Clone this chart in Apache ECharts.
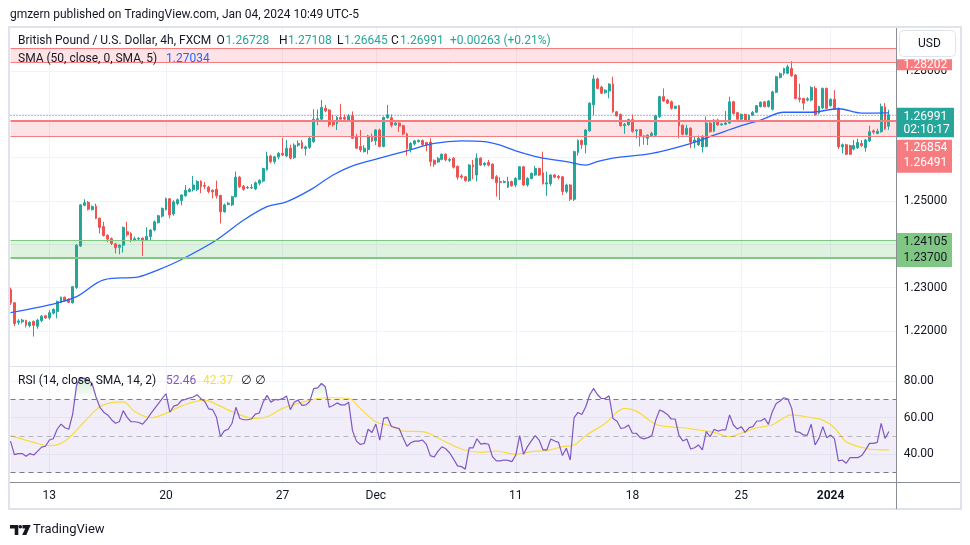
<!DOCTYPE html>
<html>
<head>
<meta charset="utf-8">
<script src="https://cdn.jsdelivr.net/npm/echarts@6/dist/echarts.min.js"></script>
<style>
html, body { margin: 0; padding: 0; background: #fff; }
#chart { width: 970px; height: 545px; }
</style>
</head>
<body>
<div id="chart"></div>
<script>
// GBP/USD 4h, FXCM - candles, SMA 50, RSI 14 with its SMA
var FONT = 'Roboto, "Noto Sans", "DejaVu Sans", sans-serif';
var UP = '#26a69a', DOWN = '#ef5350', TXT = '#131722';
var GRIDC = '#f0f3fa', NONE = 'rgba(0,0,0,0)';
var MA_YELLOW = '#f9dc3a';

// time axis: 4h bar slots, label shown at these bar indexes
var slotCount = 229;
var tickIdx = [10, 40, 70, 94, 130, 160, 188, 211];
var tickText = ['13', '20', '27', 'Dec', '11', '18', '25', '2024'];

// [open, close, low, high]
var candles = [
  // Nov 9 - 10
  [1.2295,1.2265,1.2260,1.2300],[1.2265,1.2217,1.2211,1.2266],[1.2220,1.2223,1.2214,1.2227],[1.2221,1.2225,1.2217,1.2228],
  [1.2224,1.2213,1.2208,1.2226],[1.2212,1.2220,1.2208,1.2222],[1.2222,1.2213,1.2187,1.2224],[1.2211,1.2225,1.2205,1.2228],
  [1.2224,1.2234,1.2220,1.2237],[1.2235,1.2230,1.2228,1.2236],
  // week of Nov 13
  [1.2230,1.2242,1.2226,1.2248],[1.2241,1.2250,1.2238,1.2252],[1.2245,1.2268,1.2229,1.2270],[1.2266,1.2278,1.2264,1.2279],
  [1.2278,1.2270,1.2267,1.2279],[1.2273,1.2266,1.2264,1.2275],[1.2265,1.2302,1.2263,1.2304],[1.2300,1.2398,1.2297,1.2400],
  [1.2396,1.2491,1.2394,1.2493],[1.2490,1.2496,1.2488,1.2504],[1.2497,1.2481,1.2478,1.2500],[1.2480,1.2487,1.2478,1.2490],
  [1.2488,1.2460,1.2458,1.2494],[1.2460,1.2439,1.2425,1.2462],[1.2441,1.2420,1.2418,1.2452],[1.2421,1.2412,1.2405,1.2423],
  [1.2413,1.2402,1.2398,1.2416],[1.2401,1.2392,1.2379,1.2403],[1.2393,1.2398,1.2377,1.2400],[1.2398,1.2439,1.2381,1.2441],
  [1.2429,1.2422,1.2418,1.2452],[1.2425,1.2410,1.2405,1.2428],[1.2410,1.2413,1.2407,1.2418],[1.2412,1.2414,1.2410,1.2416],
  [1.2414,1.2408,1.2373,1.2416],[1.2410,1.2418,1.2408,1.2439],[1.2418,1.2433,1.2410,1.2435],[1.2433,1.2452,1.2430,1.2455],
  [1.2450,1.2466,1.2448,1.2468],[1.2465,1.2483,1.2462,1.2485],
  // week of Nov 20
  [1.2480,1.2505,1.2478,1.2508],[1.2505,1.2468,1.2460,1.2507],[1.2470,1.2498,1.2466,1.2502],[1.2494,1.2503,1.2490,1.2506],
  [1.2501,1.2514,1.2490,1.2515],[1.2512,1.2525,1.2510,1.2537],[1.2522,1.2527,1.2520,1.2530],[1.2526,1.2537,1.2522,1.2558],
  [1.2527,1.2545,1.2523,1.2548],[1.2545,1.2533,1.2518,1.2548],[1.2536,1.2534,1.2528,1.2544],[1.2532,1.2522,1.2518,1.2535],
  [1.2525,1.2521,1.2506,1.2527],[1.2527,1.2512,1.2506,1.2547],[1.2513,1.2475,1.2448,1.2514],[1.2475,1.2491,1.2473,1.2494],
  [1.2492,1.2495,1.2490,1.2498],[1.2491,1.2510,1.2488,1.2512],[1.2510,1.2555,1.2508,1.2568],[1.2555,1.2533,1.2530,1.2558],
  [1.2534,1.2527,1.2524,1.2537],[1.2530,1.2531,1.2528,1.2535],[1.2530,1.2531,1.2528,1.2539],[1.2528,1.2542,1.2525,1.2545],
  [1.2541,1.2548,1.2536,1.2550],[1.2546,1.2575,1.2543,1.2577],[1.2572,1.2604,1.2570,1.2614],[1.2604,1.2591,1.2587,1.2607],
  [1.2591,1.2602,1.2586,1.2604],[1.2602,1.2610,1.2596,1.2613],
  // week of Nov 27
  [1.2610,1.2606,1.2604,1.2646],[1.2604,1.2622,1.2601,1.2641],[1.2622,1.2599,1.2596,1.2630],[1.2600,1.2629,1.2597,1.2633],
  [1.2629,1.2633,1.2625,1.2640],[1.2635,1.2622,1.2620,1.2641],[1.2621,1.2625,1.2605,1.2628],[1.2624,1.2645,1.2620,1.2650],
  [1.2637,1.2689,1.2634,1.2712],[1.2688,1.2690,1.2675,1.2711],[1.2689,1.2716,1.2686,1.2733],[1.2714,1.2708,1.2705,1.2722],
  [1.2710,1.2676,1.2671,1.2712],[1.2683,1.2676,1.2672,1.2699],[1.2679,1.2693,1.2664,1.2697],[1.2693,1.2689,1.2687,1.2724],
  [1.2693,1.2689,1.2686,1.2700],[1.2687,1.2696,1.2685,1.2701],[1.2697,1.2645,1.2643,1.2707],[1.2648,1.2622,1.2620,1.2655],
  [1.2626,1.2618,1.2613,1.2664],[1.2614,1.2622,1.2612,1.2629],[1.2619,1.2650,1.2608,1.2653],[1.2650,1.2639,1.2636,1.2656],
  [1.2639,1.2664,1.2629,1.2666],[1.2664,1.2626,1.2624,1.2667],[1.2626,1.2693,1.2624,1.2695],[1.2692,1.2699,1.2690,1.2722],
  [1.2692,1.2675,1.2670,1.2700],[1.2676,1.2680,1.2674,1.2685],
  // week of Dec 4
  [1.2680,1.2673,1.2660,1.2682],[1.2674,1.2655,1.2652,1.2676],[1.2655,1.2621,1.2605,1.2658],[1.2620,1.2633,1.2612,1.2636],
  [1.2632,1.2639,1.2628,1.2641],[1.2637,1.2640,1.2635,1.2642],[1.2640,1.2630,1.2628,1.2642],[1.2635,1.2630,1.2615,1.2637],
  [1.2636,1.2591,1.2580,1.2645],[1.2594,1.2585,1.2579,1.2596],[1.2590,1.2598,1.2588,1.2602],[1.2596,1.2608,1.2594,1.2610],
  [1.2608,1.2595,1.2592,1.2610],[1.2594,1.2596,1.2590,1.2600],[1.2599,1.2578,1.2575,1.2601],[1.2580,1.2555,1.2549,1.2582],
  [1.2558,1.2555,1.2551,1.2562],[1.2556,1.2547,1.2545,1.2558],[1.2547,1.2583,1.2544,1.2585],[1.2583,1.2579,1.2550,1.2595],
  [1.2560,1.2599,1.2545,1.2610],[1.2599,1.2583,1.2581,1.2601],[1.2584,1.2587,1.2580,1.2590],[1.2589,1.2583,1.2580,1.2595],
  [1.2585,1.2552,1.2550,1.2587],[1.2556,1.2542,1.2510,1.2560],[1.2545,1.2543,1.2502,1.2555],[1.2543,1.2545,1.2541,1.2548],
  [1.2532,1.2545,1.2530,1.2556],[1.2545,1.2535,1.2533,1.2547],
  // week of Dec 11
  [1.2537,1.2552,1.2532,1.2555],[1.2550,1.2579,1.2548,1.2581],[1.2579,1.2537,1.2535,1.2581],[1.2537,1.2552,1.2533,1.2555],
  [1.2552,1.2564,1.2550,1.2566],[1.2560,1.2575,1.2558,1.2581],[1.2575,1.2560,1.2558,1.2577],[1.2565,1.2540,1.2538,1.2614],
  [1.2539,1.2542,1.2512,1.2568],[1.2540,1.2560,1.2535,1.2562],[1.2560,1.2555,1.2553,1.2562],[1.2557,1.2554,1.2550,1.2560],
  [1.2556,1.2522,1.2514,1.2558],[1.2522,1.2537,1.2518,1.2540],[1.2537,1.2504,1.2500,1.2539],[1.2504,1.2614,1.2500,1.2616],
  [1.2612,1.2640,1.2605,1.2642],[1.2640,1.2630,1.2620,1.2642],[1.2630,1.2664,1.2610,1.2666],[1.2662,1.2726,1.2660,1.2728],
  [1.2722,1.2782,1.2698,1.2791],[1.2782,1.2760,1.2758,1.2785],[1.2763,1.2749,1.2747,1.2766],[1.2750,1.2756,1.2748,1.2758],
  [1.2754,1.2770,1.2737,1.2772],[1.2770,1.2706,1.2704,1.2787],[1.2706,1.2697,1.2695,1.2708],[1.2700,1.2674,1.2672,1.2702],
  [1.2674,1.2677,1.2655,1.2680],[1.2676,1.2688,1.2674,1.2690],
  // week of Dec 18
  [1.2688,1.2661,1.2658,1.2700],[1.2662,1.2664,1.2645,1.2666],[1.2665,1.2649,1.2626,1.2666],[1.2650,1.2648,1.2630,1.2652],
  [1.2645,1.2652,1.2629,1.2654],[1.2651,1.2656,1.2648,1.2660],[1.2652,1.2697,1.2650,1.2699],[1.2695,1.2741,1.2692,1.2743],
  [1.2741,1.2731,1.2729,1.2760],[1.2733,1.2726,1.2724,1.2736],[1.2729,1.2714,1.2711,1.2732],[1.2714,1.2719,1.2712,1.2720],
  [1.2720,1.2674,1.2645,1.2722],[1.2675,1.2654,1.2652,1.2677],[1.2654,1.2668,1.2651,1.2676],[1.2668,1.2636,1.2622,1.2670],
  [1.2636,1.2641,1.2622,1.2648],[1.2630,1.2645,1.2627,1.2651],[1.2625,1.2649,1.2612,1.2652],[1.2626,1.2680,1.2624,1.2695],
  [1.2680,1.2660,1.2658,1.2682],[1.2661,1.2687,1.2659,1.2689],[1.2687,1.2676,1.2674,1.2690],[1.2676,1.2678,1.2674,1.2680],
  [1.2677,1.2680,1.2676,1.2708],[1.2680,1.2729,1.2678,1.2741],[1.2729,1.2702,1.2700,1.2731],[1.2704,1.2689,1.2687,1.2706],
  // week of Dec 25
  [1.2689,1.2700,1.2687,1.2702],[1.2700,1.2685,1.2683,1.2702],[1.2685,1.2698,1.2683,1.2700],[1.2698,1.2705,1.2696,1.2708],
  [1.2705,1.2720,1.2703,1.2722],[1.2718,1.2728,1.2716,1.2730],[1.2729,1.2718,1.2716,1.2731],[1.2718,1.2731,1.2716,1.2733],
  [1.2712,1.2752,1.2709,1.2755],[1.2751,1.2787,1.2749,1.2789],[1.2785,1.2794,1.2783,1.2797],[1.2795,1.2806,1.2790,1.2808],
  [1.2795,1.2810,1.2793,1.2815],[1.2806,1.2789,1.2787,1.2823],[1.2791,1.2737,1.2735,1.2793],[1.2738,1.2735,1.2728,1.2771],
  [1.2737,1.2726,1.2710,1.2738],[1.2733,1.2736,1.2730,1.2740],[1.2733,1.2762,1.2730,1.2765],[1.2760,1.2699,1.2697,1.2765],
  [1.2703,1.2718,1.2700,1.2720],[1.2715,1.2760,1.2712,1.2762],[1.2760,1.2714,1.2712,1.2762],
  // Jan 2024
  [1.2720,1.2735,1.2718,1.2737],[1.2735,1.2712,1.2710,1.2756],[1.2714,1.2625,1.2620,1.2716],[1.2625,1.2630,1.2610,1.2633],
  [1.2630,1.2608,1.2606,1.2632],[1.2628,1.2608,1.2606,1.2630],[1.2620,1.2628,1.2617,1.2641],[1.2623,1.2635,1.2620,1.2644],
  [1.2633,1.2628,1.2625,1.2641],[1.2623,1.2641,1.2614,1.2643],[1.2639,1.2660,1.2636,1.2674],[1.2662,1.2659,1.2655,1.2665],
  [1.2656,1.2661,1.2654,1.2667],[1.2660,1.2718,1.2658,1.2725],[1.2717,1.2667,1.2664,1.2726],[1.26728,1.26991,1.26645,1.27108]
];

// SMA(50): [bar index, value]
var smaPts = [
  [0,1.2242],[10,1.2260],[17,1.2279],[24,1.2318],[33,1.2325],[38,1.2341],[44,1.2365],[53,1.2410],
  [60,1.2456],[66,1.2487],[71,1.2498],[77,1.2525],[83,1.2560],[88,1.2581],[95,1.2599],[102,1.2616],
  [109,1.2633],[116,1.2639],[122,1.2637],[126,1.2629],[130,1.2616],[136,1.2601],[143,1.2591],[148,1.2583],
  [151,1.2591],[155,1.2599],[165,1.2610],[175,1.2633],[181,1.2652],[188,1.2674],[193,1.2687],[199,1.2705],
  [206,1.2705],[213,1.2713],[219,1.2703],[226,1.27034]
];

// RSI(14), one value per bar
var rsi = [
  47.2,39.8,40.4,40.4,38.9,40.4,39.6,41.7,43.9,44.4,
  47.8,48.5,53.7,56.5,54.5,53.7,62,77.8,81.9,81.5,
  80.6,78.7,71.3,65.7,63,61.5,58.9,57,57.8,63.9,
  60.2,57.8,57.8,57.4,56.5,58.9,62,64.8,67.6,70.4,
  73.1,63,66.3,67,69.4,70,70.7,71.3,72.6,70.4,
  68.9,64.8,64.4,60.2,49.6,52.8,53.7,57,65.7,59.6,
  58.9,58.9,59.3,62,62.6,68.5,72.2,68.5,70,69.8,
  70.4,71.9,64.4,68.5,69.6,66.7,67,68.9,75.9,76.3,
  78.7,76.9,65.7,66.7,68.1,67,67,68.5,52.8,47.2,
  45.4,45.9,53.7,51.9,56.5,47.8,59.6,60.2,55.2,54.6,
  54.1,49.1,44.4,46.3,47.2,47.2,47.8,45.4,39.3,38.5,
  41.7,44.1,43,40.7,37.4,33.7,33.3,31.9,43.5,43.5,
  48.5,45.6,46,45.5,38.7,36.4,36.4,36.9,36.7,36,
  39.6,50.2,40,44.2,47.3,50.2,47.8,42.4,42.4,48.4,
  47.3,46.5,39.3,43.3,36.9,60,62.9,61.8,66,72.4,
  76,72.7,70.5,70.5,72,59.6,58.2,54.2,54.5,56,
  51.5,51.5,49.1,48.4,49.1,50.2,58.7,64.2,63.3,61.8,
  59.3,59.3,50.2,47.3,48.4,42.9,43.6,45.1,42.4,52.4,
  49.6,53.6,52.7,53.3,53.3,61.5,56,53.8,55.1,52,
  54.5,55.1,58.2,58.2,59.6,56.4,63.3,67.8,69.1,70.9,
  70.2,65.1,52.4,52,50.5,50.5,56.4,45.1,48.7,55.1,
  49.1,50.5,48.4,36.4,36.9,35.1,38.2,38.2,38.2,39.3,
  42.4,46,46,46.5,56.9,48.7,52.46
];

// SMA(14) of RSI: [bar index, value]
var rsiMaPts = [
  [0,50.2],[6,46.5],[10,44.7],[14,47.3],[19,57.8],[23,66],[26,68.2],[29,68.7],[32,63.3],[36,60],
  [40,62.4],[44,66.5],[50,69.6],[53,67.3],[57,63.3],[63,59.6],[66,60.5],[70,65.1],[75,68.4],[79,70.5],
  [82,70.9],[87,70.5],[90,65.1],[94,57.8],[98,55.6],[101,52.7],[106,52.4],[111,47.8],[116,42.9],[121,41.1],
  [125,41.8],[130,40],[134,41.5],[138,42],[142,44.2],[145,45.1],[148,50.2],[153,56.9],[158,65.1],[161,63.6],
  [166,56.4],[169,55.1],[173,54.5],[177,53.3],[181,52],[185,49.6],[188,51.5],[192,54.5],[196,56],[198,58.7],
  [201,61.5],[206,60],[209,58.7],[212,54.5],[215,46.9],[220,43.3],[224,42.4],[226,42.37]
];

// drawn zones and levels
var zoneTop = [1.28202, 1.2852];
var zoneMid = [1.26491, 1.26854];
var zoneLow = [1.23700, 1.24105];
var lastClose = 1.26991;

var cats = [];
for (var i = 0; i < slotCount; i++) cats.push('');
tickIdx.forEach(function (k, j) { cats[k] = tickText[j]; });

function isTick(idx, val) { return val !== ''; }

var chart = echarts.init(document.getElementById('chart'));

var option = {
  animation: false,
  backgroundColor: '#ffffff',
  grid: [
    { left: 10.5, right: 73.3, top: 27.8, height: 346.4 },
    { left: 10.5, right: 73.3, top: 367.4, height: 114.35 }
  ],
  xAxis: [
    {
      type: 'category', gridIndex: 0, data: cats, boundaryGap: false,
      axisLine: { show: false }, axisTick: { show: false }, axisLabel: { show: false },
      splitLine: { show: true, interval: isTick, lineStyle: { color: GRIDC } }
    },
    {
      type: 'category', gridIndex: 1, data: cats, boundaryGap: false,
      axisLine: { show: false }, axisTick: { show: false },
      axisLabel: {
        interval: 0, margin: 8, color: TXT, fontSize: 12, fontFamily: FONT,
        formatter: function (v) { return v === '2024' ? '{b|2024}' : v; },
        rich: { b: { fontWeight: 'bold', fontSize: 12, color: TXT, fontFamily: FONT } }
      },
      splitLine: { show: true, interval: isTick, lineStyle: { color: GRIDC } }
    }
  ],
  yAxis: [
    {
      type: 'value', gridIndex: 0, position: 'right', min: 1.21, max: 1.29, interval: 0.01,
      axisLine: { show: false }, axisTick: { show: false },
      axisLabel: {
        margin: 7, color: TXT, fontSize: 12, fontFamily: FONT,
        formatter: function (v) { return (v < 1.215 || v > 1.285) ? '' : v.toFixed(5); }
      },
      splitLine: { lineStyle: { color: [NONE, GRIDC, GRIDC, GRIDC, GRIDC, GRIDC, GRIDC, GRIDC, NONE] } }
    },
    {
      type: 'value', gridIndex: 1, position: 'right', min: 25, max: 87.5, interval: 5,
      axisLine: { show: false }, axisTick: { show: false },
      axisLabel: {
        margin: 7, color: TXT, fontSize: 12, fontFamily: FONT,
        formatter: function (v) { return (v === 40 || v === 60 || v === 80) ? v.toFixed(2) : ''; }
      },
      splitLine: { lineStyle: { color: [NONE, NONE, NONE, GRIDC, NONE, NONE, NONE, GRIDC, NONE, NONE, NONE, GRIDC, NONE, NONE] } }
    }
  ],
  series: [
    {
      name: 'GBPUSD', type: 'candlestick', xAxisIndex: 0, yAxisIndex: 0,
      data: candles, barWidth: 2.4, z: 3,
      itemStyle: { color: UP, color0: DOWN, borderColor: UP, borderColor0: DOWN, borderWidth: 1 },
      markArea: {
        silent: true,
        data: [
          [{ yAxis: zoneTop[0], itemStyle: { color: 'rgba(242,54,69,0.14)' } }, { yAxis: zoneTop[1] }],
          [{ yAxis: zoneMid[0], itemStyle: { color: 'rgba(242,54,69,0.14)' } }, { yAxis: zoneMid[1] }],
          [{ yAxis: zoneLow[0], itemStyle: { color: 'rgba(76,175,80,0.18)' } }, { yAxis: zoneLow[1] }]
        ]
      },
      markLine: {
        silent: true, symbol: 'none', label: { show: false }, precision: 6,
        data: [
          { yAxis: zoneTop[0], lineStyle: { color: '#f77c80', width: 1, type: 'solid' } },
          { yAxis: zoneTop[1], lineStyle: { color: '#f77c80', width: 1, type: 'solid' } },
          { yAxis: zoneMid[1], lineStyle: { color: '#f77c80', width: 2, type: 'solid' } },
          { yAxis: zoneMid[0], lineStyle: { color: '#f77c80', width: 1, type: 'solid' } },
          { yAxis: zoneLow[1], lineStyle: { color: '#81c784', width: 1, type: 'solid' } },
          { yAxis: zoneLow[0], lineStyle: { color: '#81c784', width: 2, type: 'solid' } },
          { yAxis: lastClose, lineStyle: { color: UP, width: 1, type: [1, 2] } }
        ]
      }
    },
    {
      name: 'SMA 50', type: 'line', xAxisIndex: 0, yAxisIndex: 0, data: smaPts,
      smooth: 0.35, showSymbol: false, z: 4,
      lineStyle: { color: '#2962ff', width: 1.3 }
    },
    {
      name: 'RSI', type: 'line', xAxisIndex: 1, yAxisIndex: 1, data: rsi,
      showSymbol: false, z: 4, lineStyle: { color: '#7e57c2', width: 1.2 },
      markArea: {
        silent: true,
        data: [[{ yAxis: 30, itemStyle: { color: 'rgba(126,87,194,0.10)' } }, { yAxis: 70 }]]
      },
      markLine: {
        silent: true, symbol: 'none', label: { show: false },
        data: [
          { yAxis: 70, lineStyle: { color: '#787b86', width: 1, type: [5, 4] } },
          { yAxis: 50, lineStyle: { color: 'rgba(120,123,134,0.5)', width: 1, type: [5, 4] } },
          { yAxis: 30, lineStyle: { color: '#787b86', width: 1, type: [5, 4] } }
        ]
      }
    },
    {
      name: 'RSI MA', type: 'line', xAxisIndex: 1, yAxisIndex: 1, data: rsiMaPts,
      smooth: 0.35, showSymbol: false, z: 3, lineStyle: { color: MA_YELLOW, width: 1.2 }
    },
    {
      id: 'overbought', name: 'Overbought', type: 'line', xAxisIndex: 1, yAxisIndex: 1, data: rsi,
      showSymbol: false, z: 2, silent: true,
      lineStyle: { width: 0, opacity: 0 },
      areaStyle: { origin: 'start', opacity: 1, color: NONE }
    }
  ]
};

chart.setOption(option);

// chrome, legends and price tags
function py(v) { return chart.convertToPixel({ yAxisIndex: 0 }, v); }
function ry(v) { return chart.convertToPixel({ yAxisIndex: 1 }, v); }
function font(size, weight) { return (weight || 'normal') + ' ' + size + 'px ' + FONT; }
function label(x, y, s, fill, size, weight) {
  return {
    type: 'text', silent: true, z: 120,
    style: { x: x, y: y, text: s, fill: fill, font: font(size || 12, weight),
      textAlign: 'left', textVerticalAlign: 'middle', align: 'left', verticalAlign: 'middle' }
  };
}
function box(x, y, w, h, fill, r) {
  return { type: 'rect', silent: true, z: 115, shape: { x: x, y: y, width: w, height: h, r: r || 0 }, style: { fill: fill } };
}
function line(x1, y1, x2, y2, color, w) {
  return { type: 'line', silent: true, z: 110, shape: { x1: x1, y1: y1, x2: x2, y2: y2 }, style: { stroke: color, lineWidth: w || 1 } };
}

var yTop = py(zoneTop[0]);
var yLast = py(lastClose);
var yG1 = py(zoneLow[1]), yG2 = py(zoneLow[0]);

var g = [
  // frame and scale borders
  { type: 'rect', silent: true, z: 105, shape: { x: 9, y: 27, width: 952, height: 482 }, style: { fill: 'none', stroke: '#e0e3eb', lineWidth: 2 } },
  line(10, 366.5, 896, 366.5, '#e0e3eb', 1),
  line(896.5, 28, 896.5, 509, '#8a8d96', 1),
  line(10, 482.5, 960, 482.5, '#8a8d96', 1),
  // header
  label(10, 15, 'gmzern published on TradingView.com, Jan 04, 2024 10:49 UTC-5', TXT, 12),
  label(18, 41, 'British Pound / U.S. Dollar, 4h, FXCM', TXT, 12),
  label(216.5, 41, 'O', TXT, 12), label(225.5, 41, '1.26728', UP, 12),
  label(279, 41, 'H', TXT, 12), label(288, 41, '1.27108', UP, 12),
  label(337, 41, 'L', TXT, 12), label(344, 41, '1.26645', UP, 12),
  label(391, 41, 'C', TXT, 12), label(400, 41, '1.26991', UP, 12),
  label(450, 41, '+0.00263 (+0.21%)', UP, 12),
  label(18, 59, 'SMA (50, close, 0, SMA, 5)', TXT, 12),
  label(166, 59, '1.27034', '#2962ff', 12),
  label(18, 381, 'RSI (14, close, SMA, 14, 2)', TXT, 12),
  label(166, 381, '52.46', '#7e57c2', 12),
  label(203, 381, '42.37', MA_YELLOW, 12),
  label(241, 381, '\u2205', TXT, 12),
  label(255, 381, '\u2205', TXT, 12),
  // currency box
  { type: 'rect', silent: true, z: 115, shape: { x: 899.5, y: 30.5, width: 56, height: 26, r: 4 }, style: { fill: '#fff', stroke: '#e0e3eb', lineWidth: 1 } },
  label(918, 44, 'USD', TXT, 12),
  // price tags
  box(897, yTop - 3, 55, 11, '#f77c80'),
  label(903.5, yTop + 2.5, zoneTop[0].toFixed(5), '#ffffff', 12),
  box(897, yLast - 7, 57, 29.5, UP),
  label(903.5, yLast + 2, lastClose.toFixed(5), '#ffffff', 12),
  label(903.5, yLast + 15.5, '02:10:17', '#ffffff', 12),
  box(897, yLast + 25, 55, 33, '#f77c80'),
  label(903.5, yLast + 33.5, zoneMid[1].toFixed(5), '#ffffff', 12),
  label(903.5, yLast + 48.5, zoneMid[0].toFixed(5), '#ffffff', 12),
  box(897, yG1 - 6.8, 55, (yG2 - yG1) + 16.5, '#81c784'),
  label(903.5, yG1 + 1.8, zoneLow[1].toFixed(5), TXT, 12),
  label(903.5, yG2 + 1, zoneLow[0].toFixed(5), TXT, 12),
  // footer logo
  { type: 'polygon', silent: true, z: 120, shape: { points: [[10, 525], [18.3, 525], [18.3, 535], [14.7, 535], [14.7, 528.5], [10, 528.5]] }, style: { fill: TXT } },
  { type: 'circle', silent: true, z: 120, shape: { cx: 20.3, cy: 526.8, r: 1.8 }, style: { fill: TXT } },
  { type: 'polygon', silent: true, z: 120, shape: { points: [[22.5, 525], [30.7, 525], [26.3, 535], [22.2, 535], [25.2, 528.5], [22.5, 528.5]] }, style: { fill: TXT } },
  label(33, 530, 'TradingView', TXT, 13)
];

// overbought fill: transparent at 70, fading to green above it
var obFill = new echarts.graphic.LinearGradient(0, ry(70), 0, ry(90), [
  { offset: 0, color: 'rgba(76,175,80,0)' },
  { offset: 1, color: 'rgba(76,175,80,0.45)' }
], true);

chart.setOption({
  series: [{ id: 'overbought', areaStyle: { origin: 'start', opacity: 1, color: obFill } }],
  graphic: g
});
</script>
</body>
</html>
